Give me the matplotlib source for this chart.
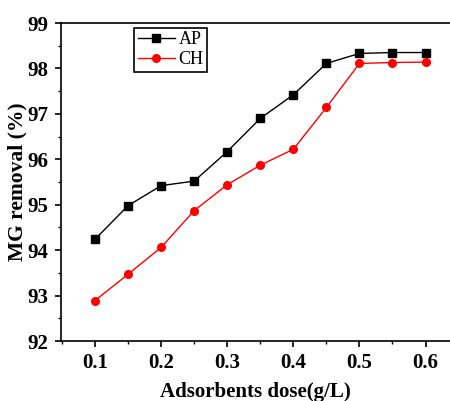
import matplotlib
matplotlib.use("Agg")
import matplotlib.pyplot as plt
from matplotlib.ticker import MultipleLocator

# Data
dose = [0.1, 0.15, 0.2, 0.25, 0.3, 0.35, 0.4, 0.45, 0.5, 0.55, 0.6]
ap = [94.24, 94.98, 95.42, 95.52, 96.17, 96.90, 97.42, 98.11, 98.33, 98.35, 98.35]
ch = [92.89, 93.47, 94.06, 94.87, 95.44, 95.87, 96.22, 97.14, 98.11, 98.13, 98.14]

plt.rcParams['font.family'] = ['Liberation Serif', 'DejaVu Serif']

fig = plt.figure(figsize=(4.5, 4.01), dpi=100)
ax = fig.add_axes([61/450, (401-341)/401, (450-61)/450, (341-23)/401])

ax.plot(dose, ap, color="black", marker="s", markersize=5.2, linewidth=1, label="AP")
ax.plot(dose, ch, color="red", marker="o", markersize=5.5, linewidth=1, label="CH")

ax.set_xlim(0.0485, 0.0485 + (450-61)/661)
ax.set_ylim(92, 99)
ax.xaxis.set_minor_locator(MultipleLocator(0.05))
ax.yaxis.set_major_locator(MultipleLocator(1))
ax.yaxis.set_minor_locator(MultipleLocator(0.5))
ax.set_xticks([0.1, 0.2, 0.3, 0.4, 0.5, 0.6])
ax.set_xticklabels(["0.1", "0.2", "0.3", "0.4", "0.5", "0.6"])
ax.spines["right"].set_visible(False)
for s in ax.spines.values():
    s.set_linewidth(1.2)
ax.tick_params(which="major", direction="out", length=4, width=1.2, labelsize=15, pad=5)
ax.tick_params(which="minor", direction="out", length=2.5, width=1)
for lbl in ax.get_xticklabels() + ax.get_yticklabels():
    lbl.set_fontweight("bold")

ax.set_xlabel("Adsorbents dose(g/L)", fontsize=15, fontweight="bold", labelpad=6)
ax.set_ylabel("MG removal (%)", fontsize=15.5, fontweight="bold")
ax.yaxis.set_label_coords(-0.086, 0.5)

leg = ax.legend(loc="upper left", bbox_to_anchor=(0.188, 0.985), fontsize=13,
                fancybox=False, edgecolor="black", framealpha=1,
                handlelength=2.05, handletextpad=0.2, borderpad=0.2,
                labelspacing=0.15, borderaxespad=0)
leg.get_frame().set_linewidth(1.2)

fig.savefig("out.png", dpi=100)
